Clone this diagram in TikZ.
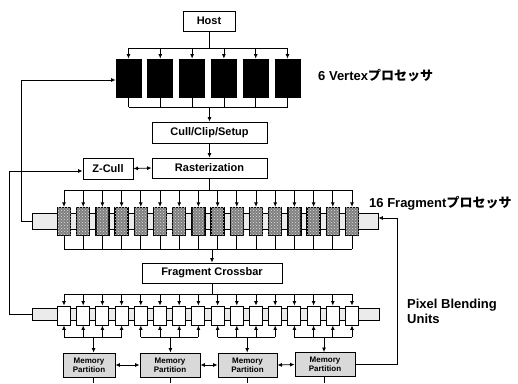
\documentclass[tikz,border=0pt]{standalone}
\usepackage{fontspec}
\setmainfont{Liberation Sans}
\newfontfamily\jp{Noto Sans CJK JP}
\usetikzlibrary{arrows.meta,patterns}
\begin{document}
\begin{tikzpicture}[x=1pt,y=-1pt,
  lin/.style={line width=0.8pt},
  arr/.style={line width=0.8pt,-{Latex[length=4.5pt,width=4pt]}},
  darr/.style={line width=0.8pt,{Latex[length=4.5pt,width=4pt]}-{Latex[length=4.5pt,width=4pt]}},
  box/.style={draw,line width=0.9pt,fill=white,inner sep=0pt,font=\bfseries\fontsize{11}{12}\selectfont},
  vp/.style={draw,line width=0.8pt,fill=black,minimum width=25pt,minimum height=38pt,inner sep=0pt},
  fp/.style={draw,line width=1.3pt,fill=black!50,minimum width=13pt,minimum height=28pt,inner sep=0pt,
    postaction={pattern=crosshatch dots,pattern color=black!12}},
  pbu/.style={draw,line width=0.9pt,fill=white,minimum width=13pt,minimum height=19pt,inner sep=0pt},
  pipe/.style={draw,line width=0.7pt,fill=black!8,inner sep=0pt},
  mp/.style={draw,line width=0.9pt,fill=black!15,inner sep=0pt,align=center,font=\bfseries\fontsize{8}{9}\selectfont},
  lbl/.style={inner sep=0pt,font=\bfseries\fontsize{13}{15}\selectfont}
]
\useasboundingbox (0,0) rectangle (518,383);
% Host and vertex processors
\node[box,minimum width=52pt,minimum height=20pt] (host) at (209,21) {Host};
\foreach \i in {0,...,5} \node[vp] (v\i) at ({128.5+31.8*\i},78) {};
\coordinate (vt) at (209,48);
\coordinate (vb) at (209,107);
\draw[lin] (host.south) -- (vt);
\draw[lin] (v0.north |- vt) -- (v5.north |- vt);
\foreach \i in {0,...,5} {
  \draw[arr] (v\i.north |- vt) -- (v\i.north);
  \draw[lin] (v\i.south) -- (v\i.south |- vb);
}
\draw[lin] (v0.south |- vb) -- (v5.south |- vb);
\node[box,minimum width=115pt,minimum height=21pt] (cull) at (209.5,132.5) {Cull/Clip/Setup};
\node[box,minimum width=115pt,minimum height=20pt] (raster) at (209.5,168) {Rasterization};
\node[box,minimum width=50pt,minimum height=21pt] (zcull) at (108,168.5) {Z-Cull};
\draw[arr] (cull.north |- vb) -- (cull.north);
\draw[arr] (cull.south) -- (raster.north);
\draw[darr] (zcull.east) -- (raster.west);
% Fragment processors
\node[pipe,minimum width=346pt,minimum height=16pt] (fpipe) at (205,221) {};
\foreach \i in {0,...,15} \node[fp] (f\i) at ({64+19.2*\i},221.5) {};
\coordinate (ft) at (209.5,190);
\coordinate (fb) at (209.5,249);
\draw[lin] (raster.south) -- (ft);
\draw[lin] (f0.north |- ft) -- (f15.north |- ft);
\draw[lin] (f0.south |- fb) -- (f15.south |- fb);
\foreach \i in {0,...,15} {
  \draw[arr] (f\i.north |- ft) -- (f\i.north);
  \draw[lin] (f\i.south) -- (f\i.south |- fb);
}
\node[box,minimum width=140pt,minimum height=20pt] (xbar) at (212,273) {Fragment Crossbar};
\draw[arr] (xbar.north |- fb) -- (xbar.north);
% Pixel blending units
\node[pipe,minimum width=347pt,minimum height=12pt] (ppipe) at (205.5,314) {};
\foreach \i in {0,...,15} \node[pbu] (p\i) at ({64+19.2*\i},315.5) {};
\coordinate (pt) at (212,294);
\draw[lin] (xbar.south) -- (pt);
\draw[lin] (p0.north |- pt) -- (p15.north |- pt);
\foreach \i in {0,...,15} \draw[arr] (p\i.north |- pt) -- (p\i.north);
% memory partitions
\node[mp,minimum width=52pt,minimum height=24pt] (m0) at (89,365) {Memory\\Partition};
\node[mp,minimum width=60pt,minimum height=24pt] (m1) at (170,365) {Memory\\Partition};
\node[mp,minimum width=59pt,minimum height=24pt] (m2) at (247.5,365) {Memory\\Partition};
\node[mp,minimum width=60pt,minimum height=24pt] (m3) at (325,364.5) {Memory\\Partition};
\foreach \g/\a/\b/\x in {0/0/3/93.6, 1/4/7/170.4, 2/8/11/247.2, 3/12/15/324} {
  \coordinate (g\g) at (\x,337);
  \coordinate (e\g) at (\x,383);
  \draw[lin] (p\a.south |- g\g) -- (p\b.south |- g\g);
  \draw[arr] (g\g) -- (g\g |- m\g.north);
  \draw[lin] (g\g |- m\g.south) -- (e\g);
}
\foreach \i in {0,...,15} \draw[arr] (p\i.south |- g0) -- (p\i.south);
\draw[darr] (m0.east) -- (m1.west);
\draw[darr] (m1.east) -- (m2.west);
\draw[darr] (m2.east) -- (m3.west);
% feedback paths
\coordinate (rf) at (397,218);
\draw[arr] (m3.east) -| (rf) -- (fpipe.east |- rf);
\coordinate (lf) at (21,80);
\draw[arr] (fpipe.west) -| (lf) -- (v0.west |- lf);
\coordinate (zl) at (9,171);
\draw[arr] (ppipe.west) -| (zl) -- (zcull.west |- zl);
% labels
\node[lbl,anchor=west] (lv) at (318,76) {6 Vertex{\jp\bfseries プロセッサ}};
\node[lbl,anchor=west] (lfr) at (369,203) {16 Fragment{\jp\bfseries プロセッサ}};
\node[lbl,anchor=north west,align=left] (lp) at (407,299) {Pixel Blending\\Units};
\end{tikzpicture}
\end{document}
